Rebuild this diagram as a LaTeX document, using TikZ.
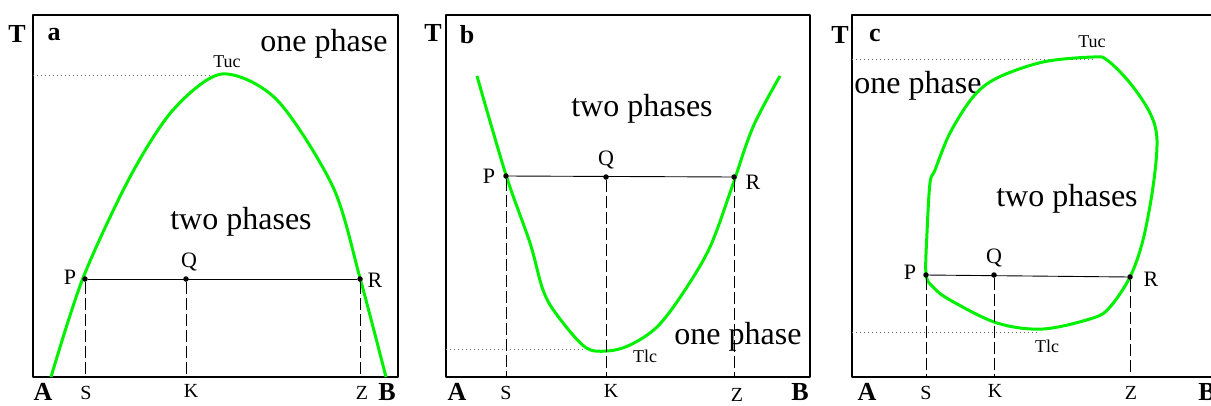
\documentclass[tikz,border=0pt]{standalone}
\usepackage{fontspec}
\setmainfont{Liberation Serif}
\definecolor{curveGreen}{RGB}{0,240,0}

\begin{document}
\begin{tikzpicture}[
    x=1pt, y=-1pt,
    line join=round,
    frame/.style={line width=2.5pt},
    coex/.style={draw=curveGreen, line width=3pt},
    tieline/.style={line width=0.9pt},
    drop/.style={line width=0.8pt, dash pattern=on 12pt off 4pt},
    level/.style={line width=0.7pt, black!60, dash pattern=on 0.8pt off 3.2pt},
    dot/.style={circle, fill, inner sep=0pt, minimum size=5.5pt},
    region/.style={inner sep=0pt, font=\fontsize{32}{32}\selectfont},
    axislbl/.style={inner sep=0pt, font=\fontsize{26}{26}\selectfont\bfseries},
    pointlbl/.style={inner sep=0pt, font=\fontsize{22}{22}\selectfont},
    footlbl/.style={inner sep=0pt, font=\fontsize{20}{20}\selectfont},
    critlbl/.style={inner sep=0pt, font=\fontsize{18}{18}\selectfont}
]

    \clip (0,0) rectangle (1211,405);

    % frames
    \draw[frame] (33,15) rectangle (398,377);
    \draw[frame] (446,15) rectangle (810,377);
    \draw[frame] (852,15) rectangle (1216,377);

    % ---------------- panel a ----------------
    \node[axislbl] (Ta) at (17,34) {T};
    \node[axislbl] (tagA) at (54,35) {a};
    \node[region] at (324,44) {one phase};
    \node[region] at (241,222) {two phases};
    \node[critlbl] (Tuca) at (227,62) {Tuc};
    \coordinate (topa) at (218,75);
    \draw[level] (33,75) -- (topa);

    \draw[coex] plot[smooth, tension=0.5] coordinates {
        (51,377) (83,278) (130,177) (173,110) (222,74) (277,100)
        (333,187) (360,278) (386,377)};

    \node[dot] (Pa) at (85,279) {};
    \node[dot] (Qa) at (186,279) {};
    \node[dot] (Ra) at (360,279) {};
    \draw[tieline] (Pa) -- (Ra);
    \foreach \p/\x in {Pa/85, Qa/186, Ra/360}
        \draw[drop] (\p) -- (\x,377);

    \node[pointlbl] at (70,277) {P};
    \node[pointlbl] at (189,262) {Q};
    \node[pointlbl] at (375,280) {R};

    \node[axislbl] (Aa) at (43,392) {A};
    \node[footlbl] (Sa) at (86,393) {S};
    \node[footlbl] (Ka) at (191,391) {K};
    \node[footlbl] (Za) at (362,393) {Z};
    \node[axislbl] (Ba) at (387,392) {B};

    % ---------------- panel b ----------------
    \node[axislbl] (Tb) at (433,33) {T};
    \node[axislbl] (tagB) at (467,35) {b};
    \node[region] at (642,109) {two phases};
    \node[region] at (738,337) {one phase};
    \node[critlbl] (Tlcb) at (645,356) {Tlc};
    \coordinate (lowb) at (590,349);
    \draw[level] (446,349) -- (lowb);

    \draw[coex] plot[smooth, tension=0.55] coordinates {
        (477,76) (506,175) (530,243) (543,290) (557,315) (585,347)
        (607,351) (630,345) (657,327) (683,293) (710,247) (732,187)
        (753,127) (780,76)};

    \node[dot] (Pb) at (506,176) {};
    \node[dot] (Qb) at (606,177) {};
    \node[dot] (Rb) at (734,177) {};
    \draw[tieline] (Pb) -- (Rb);
    \foreach \p/\x in {Pb/506, Qb/606, Rb/734}
        \draw[drop] (\p) -- (\x,377);

    \node[pointlbl] at (489,176) {P};
    \node[pointlbl] at (606,160) {Q};
    \node[pointlbl] at (753,182) {R};

    \node[axislbl] (Ab) at (457,392) {A};
    \node[footlbl] (Sb) at (506,393) {S};
    \node[footlbl] (Kb) at (611,391) {K};
    \node[footlbl] (Zb) at (737,395) {Z};
    \node[axislbl] (Bb) at (800,392) {B};

    % ---------------- panel c ----------------
    \node[axislbl] (Tc) at (840,35) {T};
    \node[axislbl] (tagC) at (875,35) {c};
    \node[region] at (918,86) {one phase};
    \node[region] at (1067,199) {two phases};
    \node[critlbl] (Tucc) at (1092,42) {Tuc};
    \node[critlbl] (Tlcc) at (1047,346) {Tlc};
    \coordinate (topc) at (1095,59);
    \coordinate (lowc) at (1040,332);
    \draw[level] (852,59) -- (topc);
    \draw[level] (852,332) -- (lowc);

    \draw[coex] plot[smooth cycle, tension=0.55] coordinates {
        (926,274) (927,233) (930,183) (935,170) (950,133) (973,97)
        (997,78) (1043,62) (1093,57) (1107,60) (1130,83) (1150,113)
        (1157,140) (1153,187) (1143,240) (1130,277) (1110,307)
        (1093,318) (1043,329) (997,323) (950,300) (933,287)};

    \node[dot] (Pc) at (926,275) {};
    \node[dot] (Qc) at (994,275) {};
    \node[dot] (Rc) at (1130,277) {};
    \draw[tieline] (Pc) -- (Rc);
    \foreach \p/\x in {Pc/926, Qc/994, Rc/1130}
        \draw[drop] (\p) -- (\x,377);

    \node[pointlbl] at (910,272) {P};
    \node[pointlbl] at (994,258) {Q};
    \node[pointlbl] at (1151,279) {R};

    \node[axislbl] (Ac) at (867,392) {A};
    \node[footlbl] (Sc) at (926,393) {S};
    \node[footlbl] (Kc) at (995,391) {K};
    \node[footlbl] (Zc) at (1131,393) {Z};
    \node[axislbl] (Bc) at (1207,392) {B};

\end{tikzpicture}
\end{document}
